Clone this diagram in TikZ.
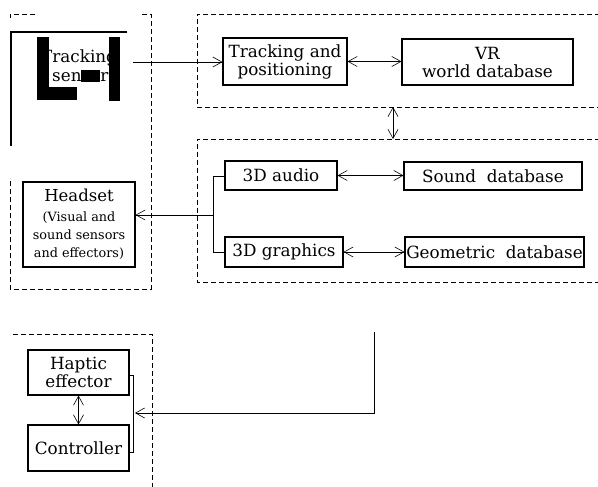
\documentclass[tikz,border=0pt]{standalone}
\usepackage{fontspec}
\setmainfont{DejaVu Serif}
\usetikzlibrary{arrows.meta}
\begin{document}
\begin{tikzpicture}[x=1pt,y=-1pt,
  box/.style={draw, line width=1.1pt, inner sep=0pt, align=center, font=\fontsize{16.8}{18}\selectfont},
  grp/.style={draw, dash pattern=on 5pt off 3pt, line width=0.7pt},
  conn/.style={line width=0.6pt},
  arr/.style={conn,-{Straight Barb[length=9pt,width=10pt]}},
  darr/.style={conn,{Straight Barb[length=9pt,width=10pt]}-{Straight Barb[length=9pt,width=10pt]}}]
\useasboundingbox (0,0) rectangle (598,487);
% dashed groups
\draw[grp] (600,14) -- (197,14) -- (197,107) -- (600,107);
\draw[grp] (600,139) -- (197,139) -- (197,282) -- (600,282);
\draw[grp] (35,14) -- (10,14) -- (10,20);
\draw[grp] (142,14) -- (151,14) -- (151,289) -- (10,289) -- (10,178);
\draw[grp] (13,334) -- (152,334) -- (152,490);
% tracking sensor (scanned overlay)
\node[anchor=base west, inner sep=0pt, font=\fontsize{16.8}{18}\selectfont] (trk) at (41,63) {Tracking};
\node[anchor=base west, inner sep=0pt, font=\fontsize{16.8}{18}\selectfont] (sen) at (52,82) {sensor};
\fill[white] (120,37) rectangle (135,101);
\fill (37,37) rectangle (49,100);
\fill (37,87) rectangle (77,100);
\fill (109,37) rectangle (120,101);
\fill (81,70) rectangle (100,82);
\draw[line width=1.4pt] (127,32) -- (11,32) -- (11,146);
\coordinate (sensorout) at (133,62);
% boxes
\node[box, minimum width=124pt, minimum height=47pt] (tp) at (285,61.5) {Tracking and\\positioning};
\node[box, minimum width=171pt, minimum height=46pt] (vr) at (487.5,62) {VR\\world database};
\node[box, minimum width=112pt, minimum height=29pt] (audio) at (281,175.5) {3D audio};
\node[box, minimum width=178pt, minimum height=28pt] (sound) at (493,176) {Sound\ \ database};
\node[box, minimum width=118pt, minimum height=30pt] (graph) at (284,252) {3D graphics};
\node[box, minimum width=179pt, minimum height=30pt] (geo) at (494.5,252) {Geometric\ \ database};
\node[box, minimum width=112pt, minimum height=85pt] (head) at (79,224.5) {{\fontsize{16.5}{18}\selectfont Headset}\\[2pt]{\fontsize{12.8}{15}\selectfont (Visual and}\\{\fontsize{12.8}{15}\selectfont sound sensors}\\{\fontsize{12.8}{15}\selectfont and effectors)}};
\node[box, minimum width=101pt, minimum height=45pt] (hap) at (78.5,372.5) {Haptic\\effector};
\node[box, minimum width=101pt, minimum height=46pt] (ctrl) at (78.5,448) {Controller};
% connectors
\draw[arr] (sensorout) -- (tp.west |- sensorout);
\draw[darr] (tp.east) -- (vr.west |- tp.east);
\coordinate (g1) at (393,107);
\coordinate (g2) at (393,139);
\draw[darr] (g1) -- (g2);
\draw[darr] (audio.east) -- (sound.west |- audio.east);
\draw[darr] (graph.east) -- (geo.west |- graph.east);
\coordinate (b1) at (213,176);
\coordinate (b2) at (213,252);
\coordinate (bm) at (213,215);
\draw[conn] (audio.west |- b1) -- (b1) -- (b2) -- (graph.west |- b2);
\draw[arr] (bm) -- (bm -| head.east);
\coordinate (h1) at (133,375);
\coordinate (h2) at (133,452);
\draw[conn] (hap.east |- h1) -- (h1) -- (h2) -- (ctrl.east |- h2);
\draw[darr] (hap.south) -- (ctrl.north);
\coordinate (f0) at (374,332);
\coordinate (f1) at (374,413);
\coordinate (f2) at (135,413);
\draw[arr] (f0) -- (f1) -- (f2);
\end{tikzpicture}
\end{document}
